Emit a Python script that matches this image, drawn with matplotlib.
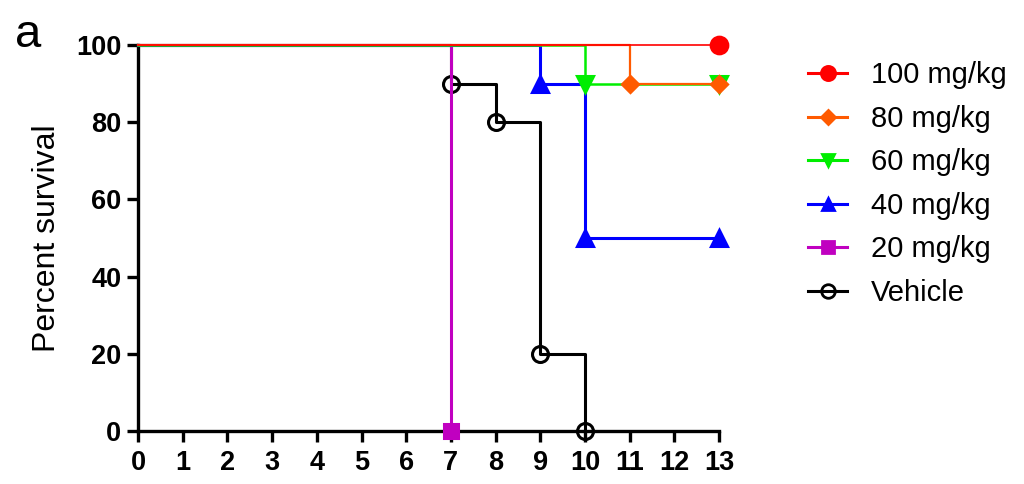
import matplotlib
matplotlib.use('Agg')
import matplotlib.pyplot as plt

plt.rcParams['font.family'] = ['Liberation Sans', 'DejaVu Sans']

# survival data (days, percent)
t_100 = [0, 13]
s_100 = [100, 100]
t_80 = [0, 11, 13]
s_80 = [100, 90, 90]
t_60 = [0, 10, 13]
s_60 = [100, 90, 90]
t_40 = [0, 9, 10, 13]
s_40 = [100, 90, 50, 50]
t_20 = [0, 7]
s_20 = [100, 0]
t_veh = [0, 7, 8, 9, 10]
s_veh = [100, 90, 80, 20, 0]

labels = ['100 mg/kg', '80 mg/kg', '60 mg/kg', '40 mg/kg', '20 mg/kg', 'Vehicle']
xticks = list(range(0, 14))
yticks = [0, 20, 40, 60, 80, 100]

fig = plt.figure(figsize=(10.24, 4.84), dpi=100)
ax = fig.add_axes([0.1348, 0.1095, 0.5674, 0.7975])

series = [
    (t_100, s_100, '#ff0000', 'o', 12, 1.2, 'full', 7),
    (t_80, s_80, '#ff5a00', 'D', 8, 1.6, 'full', 6),
    (t_60, s_60, '#00ee00', 'v', 11, 1.8, 'full', 5),
    (t_40, s_40, '#0000ff', '^', 11, 2.2, 'full', 4),
    (t_20, s_20, '#c000c0', 's', 10, 2.2, 'full', 3),
    (t_veh, s_veh, '#000000', 'o', 11.5, 2.2, 'none', 2),
]

handles = []
for (t, s, col, mk, ms, lw, fill, z), lab in zip(series, labels):
    ax.step(t, s, where='post', color=col, lw=lw, zorder=z, clip_on=False)
    mfc = 'none' if fill == 'none' else col
    ax.plot(t[1:], s[1:], linestyle='none', marker=mk, ms=ms, color=col,
            mfc=mfc, mew=2.2, zorder=z + 0.5, clip_on=False)
    h, = ax.plot([], [], color=col, lw=2.2, marker=mk, ms=ms * 0.85,
                 mfc=mfc, mew=2.0, label=lab)
    handles.append(h)

ax.set_xlim(0, 13)
ax.set_ylim(0, 100)
ax.set_xticks(xticks)
ax.set_yticks(yticks)
ax.tick_params(direction='out', length=8, width=2.4, labelsize=19.5, pad=4)
ax.tick_params(axis='x', pad=6)
for lbl in ax.get_xticklabels() + ax.get_yticklabels():
    lbl.set_fontweight('bold')

ax.spines['right'].set_visible(False)
ax.spines['top'].set_visible(False)
ax.spines['left'].set_linewidth(2.4)
ax.spines['bottom'].set_linewidth(2.4)

ax.set_ylabel('Percent survival', fontsize=23, labelpad=10)

fig.legend(handles=handles, loc='upper left', bbox_to_anchor=(0.789, 0.873),
           frameon=False, fontsize=21, handlelength=1.35, handletextpad=0.8,
           labelspacing=0.53, borderpad=0, borderaxespad=0)

fig.text(0.015, 0.903, 'a', fontsize=34, va='baseline', ha='left')

plt.savefig('out.png', dpi=100)
